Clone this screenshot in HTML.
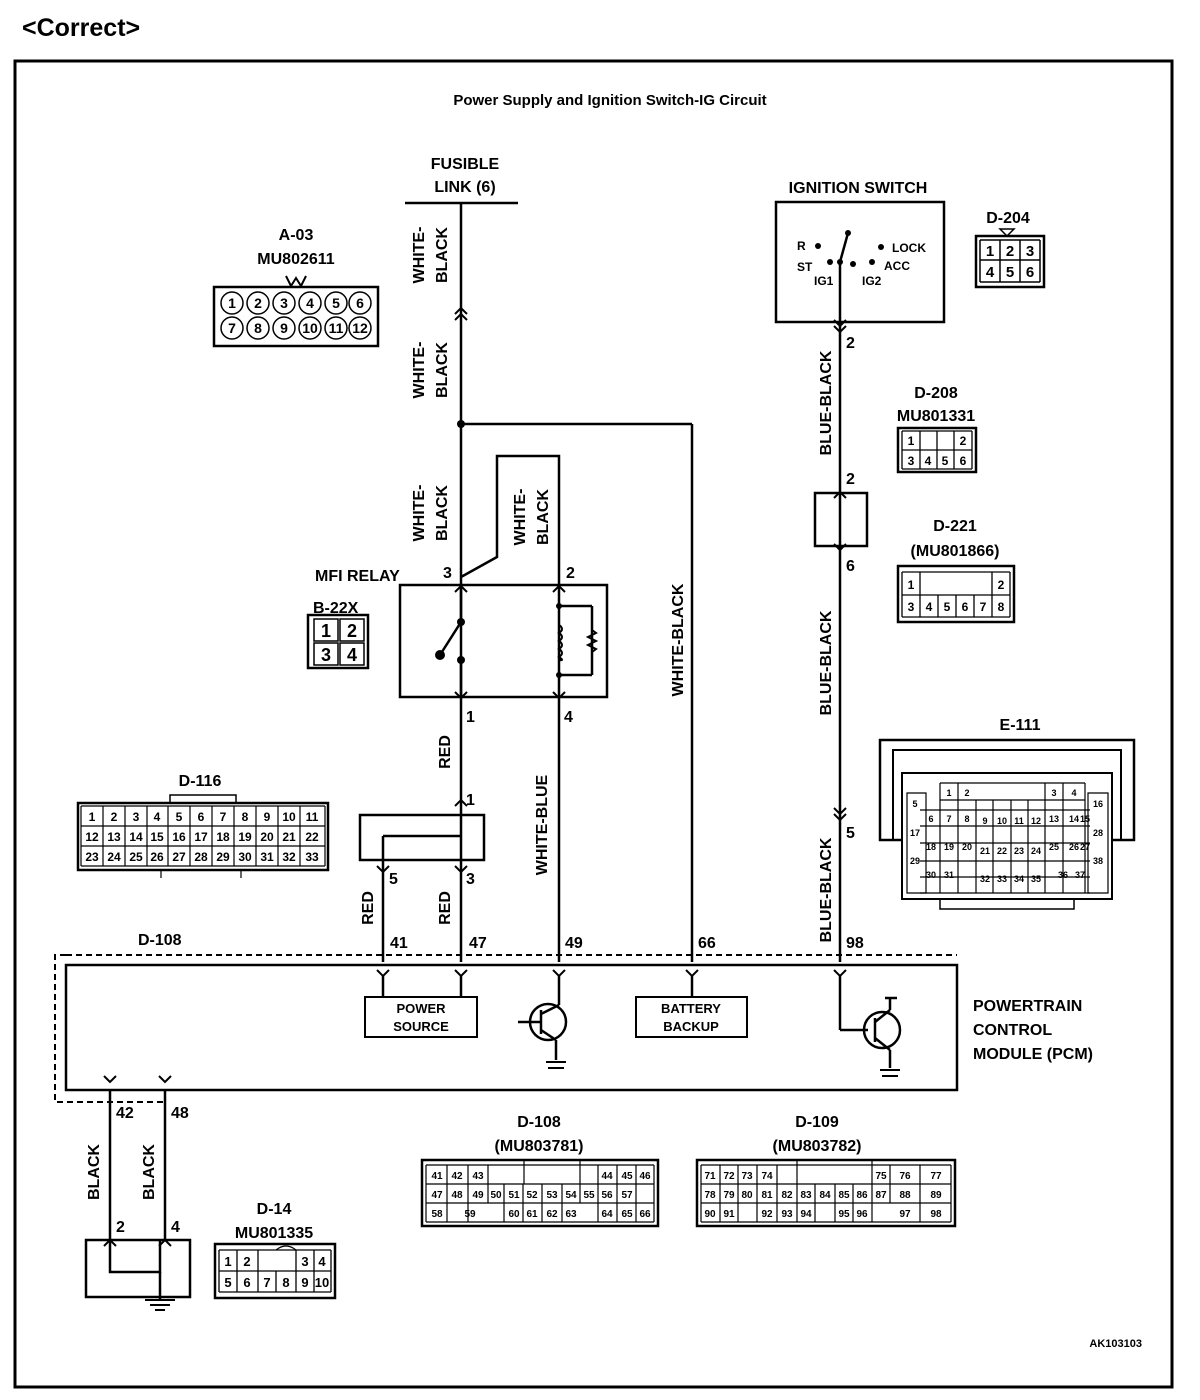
<!DOCTYPE html>
<html><head><meta charset="utf-8"><style>
html,body{margin:0;padding:0;background:#fff;}
svg{display:block;}
text{font-family:"Liberation Sans",Arial,sans-serif;font-weight:bold;fill:#000;}
</style></head><body>
<svg width="1200" height="1400" viewBox="0 0 1200 1400" xmlns="http://www.w3.org/2000/svg">
<text x="22" y="36" font-size="25">&lt;Correct&gt;</text>
<rect x="15" y="61" width="1157" height="1326" fill="none" stroke="#000" stroke-width="3"/>
<text x="610" y="105" font-size="15" text-anchor="middle">Power Supply and Ignition Switch-IG Circuit</text>

<g stroke="#000" stroke-width="2.5" fill="none">
<line x1="405" y1="203" x2="518" y2="203"/>
<line x1="461" y1="203" x2="461" y2="962"/>
<line x1="461" y1="424" x2="692" y2="424"/>
<line x1="692" y1="424" x2="692" y2="962"/>
<polyline points="461,577 497,557 497,456 559,456 559,962"/>
<rect x="400" y="585" width="207" height="112"/>
<line x1="461" y1="585" x2="461" y2="622"/>
<line x1="461" y1="622" x2="440" y2="655"/>
<line x1="461" y1="660" x2="461" y2="697"/>
<line x1="559" y1="606" x2="592" y2="606"/>
<line x1="592" y1="606" x2="592" y2="675"/>
<line x1="559" y1="675" x2="592" y2="675"/>
<rect x="360" y="815" width="124" height="45"/>
<line x1="461" y1="836" x2="383" y2="836"/>
<line x1="383" y1="836" x2="383" y2="962"/>
<rect x="776" y="202" width="168" height="120"/>
<line x1="840" y1="262" x2="840" y2="962"/>
<line x1="840" y1="262" x2="848" y2="233"/>
<rect x="815" y="493" width="52" height="53"/>
<rect x="66" y="965" width="891" height="125"/>
<rect x="365" y="997" width="112" height="40" stroke-width="2"/>
<rect x="636" y="997" width="111" height="40" stroke-width="2"/>
<line x1="383" y1="975" x2="383" y2="997"/>
<line x1="461" y1="975" x2="461" y2="997"/>
<line x1="559" y1="975" x2="559" y2="1005"/>
<line x1="692" y1="975" x2="692" y2="997"/>
<line x1="840" y1="975" x2="840" y2="1030"/>
<line x1="840" y1="1030" x2="868" y2="1030"/>
<circle cx="548" cy="1022" r="18"/>
<line x1="541" y1="1010" x2="541" y2="1034"/>
<line x1="518" y1="1022" x2="541" y2="1022"/>
<line x1="541" y1="1014" x2="559" y2="1005"/>
<line x1="541" y1="1030" x2="556" y2="1040"/>
<line x1="556" y1="1040" x2="556" y2="1060"/>
<circle cx="882" cy="1030" r="18"/>
<line x1="875" y1="1018" x2="875" y2="1042"/>
<line x1="875" y1="1022" x2="890" y2="1010"/>
<line x1="890" y1="1010" x2="890" y2="998"/>
<line x1="885" y1="998" x2="897" y2="998"/>
<line x1="875" y1="1038" x2="890" y2="1050"/>
<line x1="890" y1="1050" x2="890" y2="1068"/>
<line x1="110" y1="1090" x2="110" y2="1240"/>
<line x1="165" y1="1090" x2="165" y2="1240"/>
<rect x="86" y="1240" width="104" height="57"/>
<polyline points="110,1240 110,1272 160,1272 160,1240"/>
<line x1="160" y1="1272" x2="160" y2="1300"/>
</g>
<g stroke="#000" stroke-width="2" stroke-dasharray="6,4" fill="none">
<polyline points="66,955 957,955"/>
<polyline points="66,955 55,955 55,1102 165,1102"/>
</g>
<g stroke="#000" stroke-width="2">
<line x1="145" y1="1300" x2="175" y2="1300"/><line x1="150" y1="1305" x2="170" y2="1305"/><line x1="155" y1="1310" x2="165" y2="1310"/>
<line x1="546" y1="1062" x2="566" y2="1062"/><line x1="548" y1="1068" x2="564" y2="1068"/>
<line x1="880" y1="1070" x2="900" y2="1070"/><line x1="882" y1="1076" x2="898" y2="1076"/>
</g>
<g fill="#000">
<circle cx="461" cy="424" r="4"/>
<circle cx="461" cy="622" r="4"/><circle cx="440" cy="655" r="5"/><circle cx="461" cy="660" r="4"/>
<circle cx="559" cy="606" r="3"/><circle cx="559" cy="675" r="3"/>
<circle cx="848" cy="233" r="3"/><circle cx="840" cy="262" r="3"/>
<circle cx="818" cy="246" r="3"/><circle cx="830" cy="262" r="3"/><circle cx="853" cy="264" r="3"/><circle cx="872" cy="262" r="3"/><circle cx="881" cy="247" r="3"/>
</g>
<g stroke="#000" stroke-width="2" fill="none">
<path d="M559 585 V625 M559 660 V697"/>
<path d="M559 625 q6 4 0 8 q6 4 0 8 q6 4 0 8 q6 4 0 8 q6 4 0 3"/>
<path d="M592 630 l4 3 -8 4 8 4 -8 4 8 4 -4 3"/>
</g>
<g stroke="#000" stroke-width="2" fill="none">
<path d="M455 314 l6 -6 6 6 M455 320 l6 -6 6 6"/>
<path d="M455 592 l6 -6 6 6 M553 592 l6 -6 6 6"/>
<path d="M455 692 l6 6 6 -6 M553 692 l6 6 6 -6"/>
<path d="M455 806 l6 -6 6 6 M455 866 l6 6 6 -6 M377 866 l6 6 6 -6"/>
<path d="M834 320 l6 6 6 -6 M834 326 l6 6 6 -6"/>
<path d="M834 498 l6 -6 6 6 M834 544 l6 6 6 -6"/>
<path d="M834 808 l6 6 6 -6 M834 814 l6 6 6 -6"/>
<path d="M377 970 l6 6 6 -6 M455 970 l6 6 6 -6 M553 970 l6 6 6 -6 M686 970 l6 6 6 -6 M834 970 l6 6 6 -6"/>
<path d="M104 1076 l6 6 6 -6 M159 1076 l6 6 6 -6"/>
<path d="M104 1246 l6 -6 6 6 M159 1246 l6 -6 6 6"/>
</g>
<g font-size="16">
<text x="465" y="169" text-anchor="middle">FUSIBLE</text>
<text x="465" y="192" text-anchor="middle">LINK (6)</text>
<text x="443" y="578">3</text><text x="566" y="578">2</text>
<text x="466" y="722">1</text><text x="564" y="722">4</text>
<text x="466" y="805">1</text><text x="389" y="884">5</text><text x="466" y="884">3</text>
<text x="390" y="948">41</text><text x="469" y="948">47</text><text x="565" y="948">49</text><text x="698" y="948">66</text><text x="846" y="948">98</text>
<text x="846" y="348">2</text><text x="846" y="484">2</text><text x="846" y="571">6</text><text x="846" y="838">5</text>
<text x="116" y="1118">42</text><text x="171" y="1118">48</text>
<text x="116" y="1232">2</text><text x="171" y="1232">4</text>
<text x="315" y="581">MFI RELAY</text>
<text x="138" y="945">D-108</text>
<text x="858" y="193" text-anchor="middle">IGNITION SWITCH</text>
<text x="973" y="1011">POWERTRAIN</text><text x="973" y="1035">CONTROL</text><text x="973" y="1059">MODULE (PCM)</text>
</g>
<g font-size="13" text-anchor="middle">
<text x="421" y="1013">POWER</text><text x="421" y="1031">SOURCE</text>
<text x="691" y="1013">BATTERY</text><text x="691" y="1031">BACKUP</text>
</g>
<g font-size="12">
<text x="797" y="250">R</text><text x="797" y="271">ST</text><text x="814" y="285">IG1</text><text x="862" y="285">IG2</text>
<text x="892" y="252">LOCK</text><text x="884" y="270">ACC</text>
</g>
<g font-size="16">
<text transform="translate(424,255) rotate(-90)" text-anchor="middle">WHITE-</text>
<text transform="translate(447,255) rotate(-90)" text-anchor="middle">BLACK</text>
<text transform="translate(424,370) rotate(-90)" text-anchor="middle">WHITE-</text>
<text transform="translate(447,370) rotate(-90)" text-anchor="middle">BLACK</text>
<text transform="translate(424,513) rotate(-90)" text-anchor="middle">WHITE-</text>
<text transform="translate(447,513) rotate(-90)" text-anchor="middle">BLACK</text>
<text transform="translate(525,517) rotate(-90)" text-anchor="middle">WHITE-</text>
<text transform="translate(548,517) rotate(-90)" text-anchor="middle">BLACK</text>
<text transform="translate(683,640) rotate(-90)" text-anchor="middle">WHITE-BLACK</text>
<text transform="translate(450,752) rotate(-90)" text-anchor="middle">RED</text>
<text transform="translate(373,908) rotate(-90)" text-anchor="middle">RED</text>
<text transform="translate(450,908) rotate(-90)" text-anchor="middle">RED</text>
<text transform="translate(547,825) rotate(-90)" text-anchor="middle">WHITE-BLUE</text>
<text transform="translate(831,403) rotate(-90)" text-anchor="middle">BLUE-BLACK</text>
<text transform="translate(831,663) rotate(-90)" text-anchor="middle">BLUE-BLACK</text>
<text transform="translate(831,890) rotate(-90)" text-anchor="middle">BLUE-BLACK</text>
<text transform="translate(99,1172) rotate(-90)" text-anchor="middle">BLACK</text>
<text transform="translate(154,1172) rotate(-90)" text-anchor="middle">BLACK</text>
</g>

<g font-size="16" text-anchor="middle"><text x="296" y="240">A-03</text><text x="296" y="264">MU802611</text></g>
<path d="M286 276 l5 10 5 -8 5 8 5 -10" stroke="#000" stroke-width="2" fill="none"/>
<rect x="214" y="287" width="164" height="59" fill="none" stroke="#000" stroke-width="2.5"/>
<g stroke="#000" stroke-width="1.5" fill="none">
<circle cx="232" cy="303" r="11"/><circle cx="258" cy="303" r="11"/><circle cx="284" cy="303" r="11"/><circle cx="310" cy="303" r="11"/><circle cx="336" cy="303" r="11"/><circle cx="360" cy="303" r="11"/>
<circle cx="232" cy="328" r="11"/><circle cx="258" cy="328" r="11"/><circle cx="284" cy="328" r="11"/><circle cx="310" cy="328" r="11"/><circle cx="336" cy="328" r="11"/><circle cx="360" cy="328" r="11"/>
</g>
<g font-size="14" text-anchor="middle">
<text x="232" y="308">1</text><text x="258" y="308">2</text><text x="284" y="308">3</text><text x="310" y="308">4</text><text x="336" y="308">5</text><text x="360" y="308">6</text>
<text x="232" y="333">7</text><text x="258" y="333">8</text><text x="284" y="333">9</text><text x="310" y="333">10</text><text x="336" y="333">11</text><text x="360" y="333">12</text>
</g>

<text x="313" y="613" font-size="16">B-22X</text>
<rect x="308" y="615" width="60" height="53" fill="none" stroke="#000" stroke-width="2.5"/>
<g stroke="#000" stroke-width="1.5" fill="none"><rect x="314" y="619" width="24" height="22"/><rect x="340" y="619" width="24" height="22"/><rect x="314" y="643" width="24" height="22"/><rect x="340" y="643" width="24" height="22"/></g>
<g font-size="18" text-anchor="middle"><text x="326" y="637">1</text><text x="352" y="637">2</text><text x="326" y="661">3</text><text x="352" y="661">4</text></g>

<text x="200" y="786" font-size="16" text-anchor="middle">D-116</text>
<rect x="170" y="795" width="66" height="8" fill="none" stroke="#000" stroke-width="1.5"/>
<rect x="78" y="803" width="250" height="67" fill="none" stroke="#000" stroke-width="2.5"/>
<g stroke="#000" stroke-width="1.2" fill="none">
<path d="M81 806 H325 M81 826 H325 M81 846 H325 M81 866 H325"/>
<path d="M81 806 V866 M103 806 V866 M125 806 V866 M147 806 V866 M168 806 V866 M190 806 V866 M212 806 V866 M234 806 V866 M256 806 V866 M278 806 V866 M300 806 V866 M325 806 V866"/>
<path d="M161 870 v8 M241 870 v8"/>
</g>
<g font-size="12" text-anchor="middle">
<text x="92" y="821">1</text><text x="114" y="821">2</text><text x="136" y="821">3</text><text x="157" y="821">4</text><text x="179" y="821">5</text><text x="201" y="821">6</text><text x="223" y="821">7</text><text x="245" y="821">8</text><text x="267" y="821">9</text><text x="289" y="821">10</text><text x="312" y="821">11</text>
<text x="92" y="841">12</text><text x="114" y="841">13</text><text x="136" y="841">14</text><text x="157" y="841">15</text><text x="179" y="841">16</text><text x="201" y="841">17</text><text x="223" y="841">18</text><text x="245" y="841">19</text><text x="267" y="841">20</text><text x="289" y="841">21</text><text x="312" y="841">22</text>
<text x="92" y="861">23</text><text x="114" y="861">24</text><text x="136" y="861">25</text><text x="157" y="861">26</text><text x="179" y="861">27</text><text x="201" y="861">28</text><text x="223" y="861">29</text><text x="245" y="861">30</text><text x="267" y="861">31</text><text x="289" y="861">32</text><text x="312" y="861">33</text>
</g>

<text x="1008" y="223" font-size="16" text-anchor="middle">D-204</text>
<path d="M1000 229 h14 l-7 7 z" fill="none" stroke="#000" stroke-width="1.5"/>
<rect x="976" y="236" width="68" height="51" fill="none" stroke="#000" stroke-width="2.5"/>
<g stroke="#000" stroke-width="1.5" fill="none"><path d="M980 240 H1040 M980 260 H1040 M980 282 H1040 M980 240 V282 M1000 240 V282 M1020 240 V282 M1040 240 V282"/></g>
<g font-size="15" text-anchor="middle"><text x="990" y="256">1</text><text x="1010" y="256">2</text><text x="1030" y="256">3</text><text x="990" y="277">4</text><text x="1010" y="277">5</text><text x="1030" y="277">6</text></g>

<g font-size="16" text-anchor="middle"><text x="936" y="398">D-208</text><text x="936" y="421">MU801331</text></g>
<rect x="898" y="428" width="78" height="44" fill="none" stroke="#000" stroke-width="2.5"/>
<g stroke="#000" stroke-width="1.3" fill="none"><path d="M902 431 H972 M902 450 H972 M902 469 H972 M902 431 V469 M920 431 V469 M937 431 V469 M954 431 V469 M972 431 V469"/></g>
<g font-size="12" text-anchor="middle"><text x="911" y="445">1</text><text x="963" y="445">2</text><text x="911" y="465">3</text><text x="928" y="465">4</text><text x="945" y="465">5</text><text x="963" y="465">6</text></g>

<g font-size="16" text-anchor="middle"><text x="955" y="531">D-221</text><text x="955" y="556">(MU801866)</text></g>
<rect x="898" y="566" width="116" height="56" fill="none" stroke="#000" stroke-width="2.5"/>
<g stroke="#000" stroke-width="1.3" fill="none"><path d="M902 572 H1010 M902 595 H1010 M902 617 H1010 M902 572 V617 M920 595 V617 M938 595 V617 M956 595 V617 M974 595 V617 M992 595 V617 M1010 572 V617 M920 572 V595 M992 572 V595"/></g>
<g font-size="12" text-anchor="middle"><text x="911" y="589">1</text><text x="1001" y="589">2</text><text x="911" y="611">3</text><text x="929" y="611">4</text><text x="947" y="611">5</text><text x="965" y="611">6</text><text x="983" y="611">7</text><text x="1001" y="611">8</text></g>

<text x="1020" y="730" font-size="16" text-anchor="middle">E-111</text>
<rect x="880" y="740" width="254" height="100" fill="none" stroke="#000" stroke-width="2.5"/>
<rect x="893" y="750" width="228" height="90" fill="none" stroke="#000" stroke-width="2"/>
<rect x="902" y="773" width="210" height="126" fill="#fff" stroke="#000" stroke-width="2"/>
<rect x="940" y="899" width="134" height="10" fill="none" stroke="#000" stroke-width="1.5"/>
<g stroke="#000" stroke-width="1.2" fill="none">
<path d="M940 783 H1085 M940 800 H1085 M920 810 H1090 M920 826 H1090 M920 843 H1090 M920 861 H1090 M920 877 H1090 M920 893 H1090"/>
<path d="M940 783 V893 M958 783 V893 M976 800 V893 M993 800 V893 M1011 800 V893 M1028 800 V893 M1045 783 V893 M1063 783 V893 M1085 783 V893"/>
<path d="M907 793 H926 V893 H907 Z M1088 793 H1108 V893 H1088 Z"/>
</g>
<g font-size="9" text-anchor="middle">
<text x="949" y="796">1</text><text x="967" y="796">2</text><text x="1054" y="796">3</text><text x="1074" y="796">4</text>
<text x="915" y="807">5</text><text x="1098" y="807">16</text>
<text x="931" y="822">6</text><text x="949" y="822">7</text><text x="967" y="822">8</text><text x="985" y="824">9</text><text x="1002" y="824">10</text><text x="1019" y="824">11</text><text x="1036" y="824">12</text><text x="1054" y="822">13</text><text x="1074" y="822">14</text><text x="1085" y="822">15</text>
<text x="915" y="836">17</text><text x="1098" y="836">28</text>
<text x="931" y="850">18</text><text x="949" y="850">19</text><text x="967" y="850">20</text><text x="985" y="854">21</text><text x="1002" y="854">22</text><text x="1019" y="854">23</text><text x="1036" y="854">24</text><text x="1054" y="850">25</text><text x="1074" y="850">26</text><text x="1085" y="850">27</text>
<text x="915" y="864">29</text><text x="1098" y="864">38</text>
<text x="931" y="878">30</text><text x="949" y="878">31</text><text x="985" y="882">32</text><text x="1002" y="882">33</text><text x="1019" y="882">34</text><text x="1036" y="882">35</text><text x="1063" y="878">36</text><text x="1080" y="878">37</text>
</g>

<g font-size="16" text-anchor="middle"><text x="539" y="1127">D-108</text><text x="539" y="1151">(MU803781)</text></g>
<rect x="422" y="1160" width="236" height="66" fill="none" stroke="#000" stroke-width="2.5"/>
<g stroke="#000" stroke-width="1.2" fill="none">
<path d="M426 1165 H654 M426 1184 H654 M426 1203 H654 M426 1222 H654 M426 1165 V1222 M654 1165 V1222"/>
<path d="M447 1165 V1222 M468 1165 V1222 M488 1165 V1203 M504 1184 V1222 M523 1184 V1222 M542 1184 V1222 M562 1184 V1222 M580 1184 V1203 M598 1165 V1222 M617 1165 V1222 M636 1165 V1222 M524 1160 V1184 M580 1160 V1184"/>
</g>
<g font-size="10" text-anchor="middle">
<text x="437" y="1179">41</text><text x="457" y="1179">42</text><text x="478" y="1179">43</text><text x="607" y="1179">44</text><text x="627" y="1179">45</text><text x="645" y="1179">46</text>
<text x="437" y="1198">47</text><text x="457" y="1198">48</text><text x="478" y="1198">49</text><text x="496" y="1198">50</text><text x="514" y="1198">51</text><text x="532" y="1198">52</text><text x="552" y="1198">53</text><text x="571" y="1198">54</text><text x="589" y="1198">55</text><text x="607" y="1198">56</text><text x="627" y="1198">57</text>
<text x="437" y="1217">58</text><text x="470" y="1217">59</text><text x="514" y="1217">60</text><text x="532" y="1217">61</text><text x="552" y="1217">62</text><text x="571" y="1217">63</text><text x="607" y="1217">64</text><text x="627" y="1217">65</text><text x="645" y="1217">66</text>
</g>

<g font-size="16" text-anchor="middle"><text x="817" y="1127">D-109</text><text x="817" y="1151">(MU803782)</text></g>
<rect x="697" y="1160" width="258" height="66" fill="none" stroke="#000" stroke-width="2.5"/>
<g stroke="#000" stroke-width="1.2" fill="none">
<path d="M701 1165 H951 M701 1184 H951 M701 1203 H951 M701 1222 H951 M701 1165 V1222 M951 1165 V1222"/>
<path d="M720 1165 V1222 M738 1165 V1222 M757 1165 V1222 M777 1165 V1222 M797 1184 V1222 M815 1184 V1222 M835 1184 V1222 M853 1184 V1222 M872 1165 V1222 M890 1165 V1203 M920 1165 V1222 M797 1160 V1184 M872 1160 V1184"/>
</g>
<g font-size="10" text-anchor="middle">
<text x="710" y="1179">71</text><text x="729" y="1179">72</text><text x="747" y="1179">73</text><text x="767" y="1179">74</text><text x="881" y="1179">75</text><text x="905" y="1179">76</text><text x="936" y="1179">77</text>
<text x="710" y="1198">78</text><text x="729" y="1198">79</text><text x="747" y="1198">80</text><text x="767" y="1198">81</text><text x="787" y="1198">82</text><text x="806" y="1198">83</text><text x="825" y="1198">84</text><text x="844" y="1198">85</text><text x="862" y="1198">86</text><text x="881" y="1198">87</text><text x="905" y="1198">88</text><text x="936" y="1198">89</text>
<text x="710" y="1217">90</text><text x="729" y="1217">91</text><text x="767" y="1217">92</text><text x="787" y="1217">93</text><text x="806" y="1217">94</text><text x="844" y="1217">95</text><text x="862" y="1217">96</text><text x="905" y="1217">97</text><text x="936" y="1217">98</text>
</g>

<g font-size="16" text-anchor="middle"><text x="274" y="1214">D-14</text><text x="274" y="1238">MU801335</text></g>
<rect x="215" y="1244" width="120" height="54" fill="none" stroke="#000" stroke-width="2.5"/>
<g stroke="#000" stroke-width="1.3" fill="none"><path d="M219 1250 H331 M219 1271 H331 M219 1292 H331 M219 1250 V1292 M237 1250 V1292 M258 1250 V1292 M276 1271 V1292 M296 1250 V1292 M314 1250 V1292 M331 1250 V1292 M276 1250 q10 -8 20 0"/></g>
<g font-size="13" text-anchor="middle"><text x="228" y="1266">1</text><text x="247" y="1266">2</text><text x="305" y="1266">3</text><text x="322" y="1266">4</text><text x="228" y="1287">5</text><text x="247" y="1287">6</text><text x="267" y="1287">7</text><text x="286" y="1287">8</text><text x="305" y="1287">9</text><text x="322" y="1287">10</text></g>

<text x="1142" y="1347" font-size="11" text-anchor="end">AK103103</text>
</svg>
</body></html>
